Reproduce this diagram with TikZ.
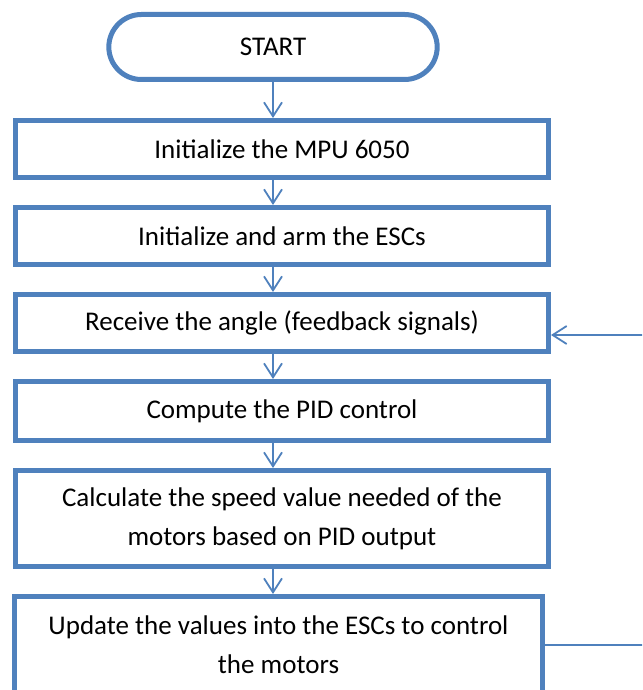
\documentclass[tikz,border=0pt]{standalone}
\usepackage{fontspec}
\setmainfont{Carlito}
\usepackage{tikz}
\usetikzlibrary{shapes.misc, arrows.meta, positioning}
\definecolor{flowblue}{RGB}{79,129,189}

\begin{document}
\begin{tikzpicture}[x=1pt, y=-1pt, node distance=25pt,
    block/.style={rectangle, draw=flowblue, line width=5pt, minimum width=533pt, minimum height=57pt, align=center, inner sep=2pt, font=\fontsize{27}{39}\selectfont},
    startstop/.style={rounded rectangle, draw=flowblue, line width=5pt, minimum width=335pt, minimum height=65pt, font=\fontsize{27}{39}\selectfont},
    arrow/.style={draw=flowblue, line width=1.8pt, -{Straight Barb[length=14pt,width=18pt]}}]

    \useasboundingbox (0,0) rectangle (642,690);
    \clip (0,0) rectangle (642,690);

    \node (init) [block] at (282,149) {Initialize the MPU 6050};
    \node (start) [startstop, above=36pt of init, xshift=-9pt] {START};
    \node (arm) [block, below=of init] {Initialize and arm the ESCs};
    \node (receive) [block, below=of arm] {Receive the angle (feedback signals)};
    \node (pid) [block, below=of receive, minimum height=59pt] {Compute the PID control};
    \node (speed) [block, below=of pid, minimum height=96pt] {Calculate the speed value needed of the\\motors based on PID output};
    \node (update) [block, below=of speed, minimum width=528pt, minimum height=97pt, xshift=-3.5pt] {Update the values into the ESCs to control\\the motors};

    \draw [arrow] (start) -- (init.north -| start);
    \draw [arrow] (init.south -| start) -- (arm.north -| start);
    \draw [arrow] (arm.south -| start) -- (receive.north -| start);
    \draw [arrow] (receive.south -| start) -- (pid.north -| start);
    \draw [arrow] (pid.south -| start) -- (speed.north -| start);
    \draw [arrow] (speed.south -| start) -- (update.north -| start);

    % feedback loop (runs off the right edge)
    \draw [arrow] (update.east) -- ++(120,0) |- ([yshift=-12pt]receive.east);
\end{tikzpicture}
\end{document}
